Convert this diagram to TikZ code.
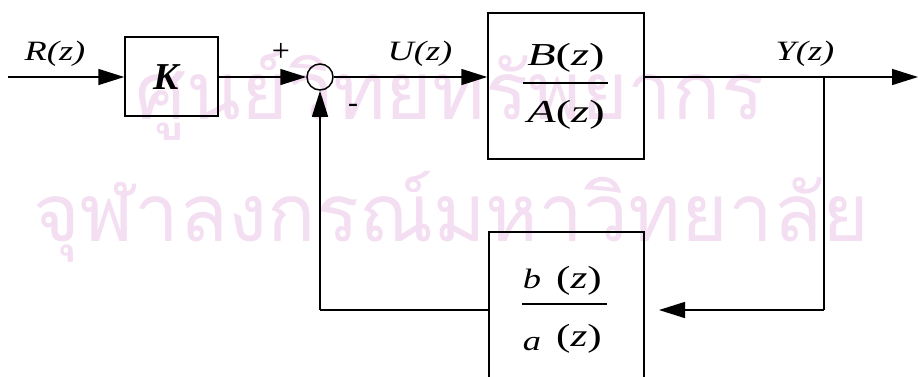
\documentclass[tikz,border=0pt]{standalone}
\usepackage{fontspec}
\setmainfont{Liberation Serif}
\newfontfamily\thaifont[Script=Thai]{Loma}
\usetikzlibrary{arrows.meta}
\definecolor{wmark}{RGB}{244,222,242}
\tikzset{
  x=1pt,y=-1pt,
  wire/.style={line width=1.5pt},
  flow/.style={wire,-{Triangle[length=26pt,width=16pt]}},
  blk/.style={draw,line width=1.5pt,inner sep=0pt},
  lbl/.style={inner sep=0pt,xscale=1.3,font=\fontsize{28}{30}\selectfont\itshape},
  frac/.style={inner sep=0pt,xscale=1.45,font=\fontsize{32}{34}\selectfont},
  small/.style={inner sep=0pt,xscale=1.3,font=\fontsize{28}{30}\selectfont\itshape,anchor=base},
  paren/.style={inner sep=0pt,xscale=1.35,font=\fontsize{32}{34}\selectfont},
  wm/.style={inner sep=0pt,text=wmark,font=\fontsize{80}{90}\selectfont\thaifont}
}
\begin{document}
\begin{tikzpicture}
\clip (0,0) rectangle (918,376);
\fill[white] (0,0) rectangle (918,376);
% watermark
\node[wm] (wm1) at (450,95) {ศูนย์วิทยทรัพยากร};
\node[wm] (wm2) at (451,217) {จุฬาลงกรณ์มหาวิทยาลัย};
% blocks
\node[blk,minimum width=93pt,minimum height=79pt] (K) at (171.5,76.5) {};
\node[inner sep=0pt,font=\fontsize{38}{40}\selectfont\bfseries\itshape] (Kt) at (166,77) {K};
\node[blk,minimum width=156pt,minimum height=146pt] (G) at (566,86) {};
\node[blk,minimum width=155pt,minimum height=150pt] (H) at (566.5,307) {};
\node[draw,circle,line width=1.5pt,minimum size=26pt,inner sep=0pt] (S) at (320,77) {};
% fractions
\node[frac] (Bn) at (566,58) {\textit{B}(\textit{z})};
\node[frac] (Ad) at (566,115) {\textit{A}(\textit{z})};
\coordinate (gb1) at (523,83); \coordinate (gb2) at (608,83);
\draw[wire] (gb1) -- (gb2);
\node[small] (bn) at (532,288) {b};
\node[paren] (bz) at (579,281) {(\textit{z})};
\node[small] (an) at (532,350) {a};
\node[paren] (az) at (579,339) {(\textit{z})};
\coordinate (hb1) at (522,304); \coordinate (hb2) at (607,304);
\draw[wire] (hb1) -- (hb2);
% coordinates
\coordinate (in) at (8,77);
\coordinate (br) at (824,77);
\coordinate (out) at (918,77);
\coordinate (c1) at (824,310);
\coordinate (c2) at (659,310);
\coordinate (c3) at (320,310);
% connectors
\draw[flow] (in) -- (K.west |- in);
\draw[flow] (K.east |- in) -- (S.west);
\draw[flow] (S.east) -- (S.east -| G.west);
\draw[flow] (G.east |- br) -- (out);
\draw[wire] (br) -- (c1);
\draw[flow] (c1) -- (c2);
\draw[wire] (H.west |- c3) -- (c3);
\draw[flow] (c3) -- (S.south);
% labels
\node[lbl] (R) at (55,54) {R(z)};
\node[lbl] (U) at (420,54) {U(z)};
\node[lbl] (Y) at (805,54) {Y(z)};
\node[inner sep=0pt,font=\fontsize{32}{34}\selectfont] (plus) at (281,52) {+};
\node[inner sep=0pt,font=\fontsize{30}{32}\selectfont] (minus) at (353,108) {-};
\end{tikzpicture}
\end{document}
